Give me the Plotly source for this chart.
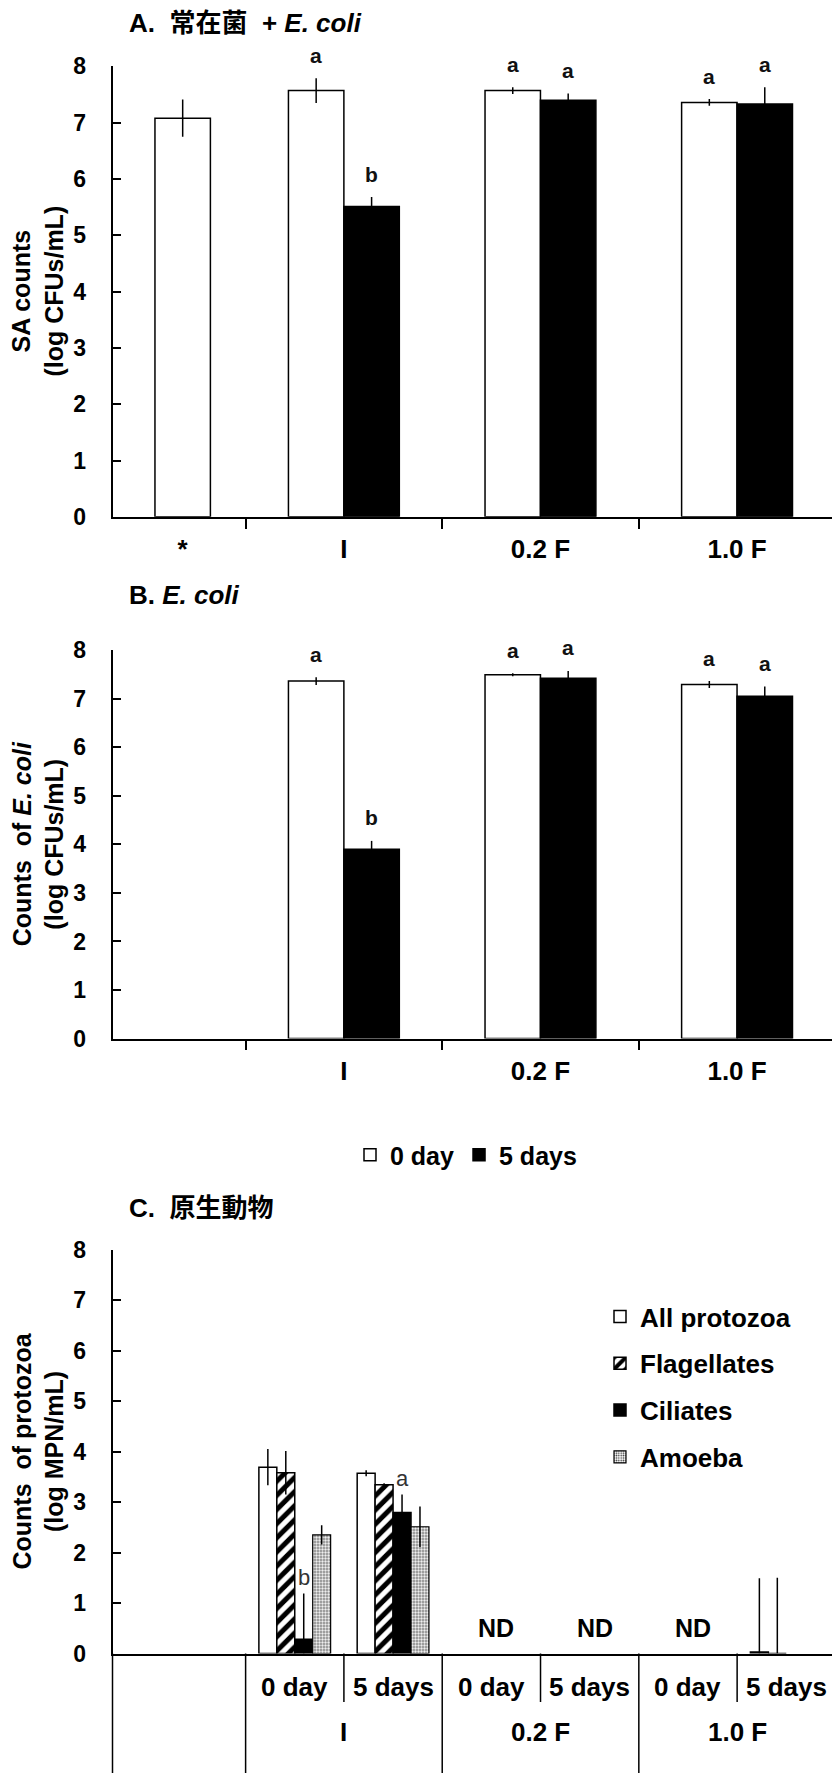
import plotly.graph_objects as go

# ---------------- data ----------------
categories_ab = ["*", "I", "0.2 F", "1.0 F"]
categories_b_labels = ["", "I", "0.2 F", "1.0 F"]

# Panel A: SA counts (log CFUs/mL)
a_day0 = [7.08, 7.57, 7.57, 7.36]
a_day0_err = [0.33, 0.22, 0.06, 0.06]
a_day5 = [None, 5.51, 7.40, 7.33]
a_day5_err = [None, 0.17, 0.12, 0.30]
a_letters_day0 = ["", "a", "a", "a"]
a_letters_day5 = ["", "b", "a", "a"]

# Panel B: counts of E. coli (log CFUs/mL)
b_day0 = [None, 7.36, 7.49, 7.29]
b_day0_err = [None, 0.08, 0.03, 0.07]
b_day5 = [None, 3.90, 7.42, 7.05]
b_day5_err = [None, 0.17, 0.15, 0.20]
b_letters_day0 = ["", "a", "a", "a"]
b_letters_day5 = ["", "b", "a", "a"]

# Panel C: counts of protozoa (log MPN/mL)
c_days = ["0 day", "5 days", "0 day", "5 days", "0 day", "5 days"]
c_groups = ["I", "0.2 F", "1.0 F"]
all_protozoa = [3.69, 3.57, None, None, None, 0.03]
all_protozoa_err = [0.36, 0.06, None, None, None, 1.46]
flagellates = [3.58, 3.34, None, None, None, 0.0]
flagellates_err = [0.43, 0.03, None, None, None, 1.50]
ciliates = [0.28, 2.79, None, None, None, None]
ciliates_err = [0.91, 0.36, None, None, None, None]
amoeba = [2.35, 2.51, None, None, None, None]
amoeba_err = [0.19, 0.40, None, None, None, None]
ciliate_letters = ["b", "a", "", "", "", ""]
c_nd = ["", "", "ND", "ND", "ND", ""]

# ---------------- layout helpers ----------------
W, H = 832, 1773
FONT = "Liberation Sans, Arial, Noto Sans CJK JP, sans-serif"


def py(px):
    return 1 - px / H


XL = 112.5 / W
cat_pos = [1.18, 2, 3, 4]
BW = 0.282
c_pos = [1, 2, 3, 4, 5, 6]
CW = 0.1825

fig = go.Figure()


def err(arr, minus_cap=None):
    plus = [e if e is not None else 0 for e in arr]
    if minus_cap is None:
        minus = plus
    else:
        minus = [min(e, v) if (v is not None) else 0 for e, v in zip(plus, minus_cap)]
    return dict(type="data", symmetric=False, array=plus, arrayminus=minus,
                color="black", thickness=1.5, width=0)


def ab_panel(day0, day0_err, day5, day5_err, xa, ya, showlegend):
    off0 = [-BW / 2 if b is None else -BW for b in day5]
    fig.add_trace(go.Bar(
        x=cat_pos, y=day0, width=BW, offset=off0, name="0 day",
        marker=dict(color="white", line=dict(color="black", width=1.5)),
        error_y=err(day0_err), xaxis=xa, yaxis=ya,
        showlegend=showlegend, legend="legend"))
    fig.add_trace(go.Bar(
        x=cat_pos, y=day5, width=BW, offset=0, name="5 days",
        marker=dict(color="black", line=dict(color="black", width=1.5)),
        error_y=err(day5_err), xaxis=xa, yaxis=ya,
        showlegend=showlegend, legend="legend"))


ab_panel(a_day0, a_day0_err, a_day5, a_day5_err, "x", "y", True)
ab_panel(b_day0, b_day0_err, b_day5, b_day5_err, "x2", "y2", False)

c_series = [
    ("All protozoa", all_protozoa, all_protozoa_err,
     dict(color="white", line=dict(color="black", width=1.5))),
    ("Flagellates", flagellates, flagellates_err,
     dict(color="white", line=dict(color="black", width=1.5),
          pattern=dict(shape="/", fgcolor="black", bgcolor="white", size=10, solidity=0.5))),
    ("Ciliates", ciliates, ciliates_err,
     dict(color="black", line=dict(color="black", width=1.5))),
    ("Amoeba", amoeba, amoeba_err,
     dict(color="white", line=dict(color="black", width=1.2),
          pattern=dict(shape=".", fgcolor="#333333", bgcolor="white", size=3, solidity=0.35))),
]
for i, (name, vals, errs, marker) in enumerate(c_series):
    fig.add_trace(go.Bar(
        x=c_pos, y=vals, width=CW, offset=(i - 2) * CW, name=name,
        marker=marker, error_y=err(errs, vals), xaxis="x3", yaxis="y3",
        legend="legend2", legendgroup=name))

# ---------------- axes ----------------
tickfont_x = dict(family=FONT, size=26, color="black", weight="bold")
tickfont_y = dict(family=FONT, size=23, color="black", weight="bold")

common_y = dict(range=[0, 8], dtick=1, tick0=0, ticks="inside", ticklen=9, tickwidth=1.5,
                tickcolor="black", showline=True, linecolor="black", linewidth=1.5,
                showgrid=False, zeroline=False, tickfont=tickfont_y, ticklabelstandoff=20,
                fixedrange=True, automargin=False)
common_x_ab = dict(range=[0.823, 4.483], showline=True, linecolor="black", linewidth=1.5,
                   tickmode="array", tickvals=cat_pos, ticks="", showgrid=False,
                   zeroline=False, tickfont=tickfont_x, ticklabelstandoff=8,
                   automargin=False, fixedrange=True,
                   minor=dict(tickmode="array", tickvals=[1.5, 2.5, 3.5], ticks="outside",
                              ticklen=10, tickwidth=1.5, tickcolor="black", showgrid=False))

fig.update_layout(
    template="none",
    width=W, height=H, margin=dict(l=0, r=0, t=0, b=0, autoexpand=False),
    paper_bgcolor="white", plot_bgcolor="white", barmode="overlay",
    font=dict(family=FONT, color="black"),
    xaxis=dict(domain=[XL, 1], anchor="y", ticktext=categories_ab, **common_x_ab),
    yaxis=dict(domain=[py(516.8), py(66.4)], anchor="x", **common_y),
    xaxis2=dict(domain=[XL, 1], anchor="y2", ticktext=categories_b_labels, **common_x_ab),
    yaxis2=dict(domain=[py(1038.6), py(650)], anchor="x2", **common_y),
    xaxis3=dict(domain=[XL, 1], anchor="y3", range=[-0.854, 6.465], showline=True,
                linecolor="black", linewidth=1.5, showticklabels=False, ticks="",
                showgrid=False, zeroline=False, automargin=False, fixedrange=True),
    yaxis3=dict(domain=[py(1653.5), py(1249.5)], anchor="x3", **common_y),
    legend=dict(orientation="h", x=350 / W, xanchor="left", y=py(1155), yanchor="middle",
                font=dict(family=FONT, size=25, color="black", weight="bold"),
                bgcolor="rgba(0,0,0,0)", borderwidth=0, itemclick=False,
                itemdoubleclick=False),
    legend2=dict(orientation="v", x=600 / W, xanchor="left", y=py(1293), yanchor="top",
                 traceorder="grouped", tracegroupgap=10,
                 font=dict(family=FONT, size=26, color="black", weight="bold"),
                 bgcolor="rgba(0,0,0,0)", borderwidth=0, itemclick=False,
                 itemdoubleclick=False),
)

ann = []
bold26 = dict(family=FONT, size=26, color="black", weight="bold")
bold25 = dict(family=FONT, size=25, color="black", weight="bold")

# panel titles
ann.append(dict(text="A.  常在菌  + <i>E. coli</i>", x=127 / W, y=py(23), xref="paper",
                yref="paper", xanchor="left", yanchor="middle", showarrow=False, font=bold26))
ann.append(dict(text="B. <i>E. coli</i>", x=127 / W, y=py(595), xref="paper",
                yref="paper", xanchor="left", yanchor="middle", showarrow=False, font=bold26))
ann.append(dict(text="C.  原生動物", x=127 / W, y=py(1208), xref="paper",
                yref="paper", xanchor="left", yanchor="middle", showarrow=False, font=bold26))

# axis titles
for txt, yc in [("SA counts<br>(log CFUs/mL)", (66.4 + 516.8) / 2),
                ("Counts&nbsp; of <i>E. coli</i><br>(log CFUs/mL)", (650 + 1038.6) / 2),
                ("Counts&nbsp; of protozoa<br>(log MPN/mL)", (1249.5 + 1653.5) / 2)]:
    ann.append(dict(text=txt, x=38 / W, y=py(yc), xref="paper", yref="paper",
                    xanchor="center", yanchor="middle", textangle=-90, showarrow=False,
                    font=bold25))

# significance letters, panels A and B
letter_font = dict(family=FONT, size=21, color="#111111", weight="bold")
for xa, ya, d0, e0, l0, d5, e5, l5 in [
        ("x", "y", a_day0, a_day0_err, a_letters_day0, a_day5, a_day5_err, a_letters_day5),
        ("x2", "y2", b_day0, b_day0_err, b_letters_day0, b_day5, b_day5_err, b_letters_day5)]:
    for i, xc in enumerate(cat_pos):
        if l0[i] and d0[i] is not None:
            ann.append(dict(text=l0[i], x=xc - BW / 2, y=d0[i] + e0[i], xref=xa, yref=ya,
                            yshift=23, showarrow=False, yanchor="middle", font=letter_font))
        if l5[i] and d5[i] is not None:
            ann.append(dict(text=l5[i], x=xc + BW / 2, y=d5[i] + e5[i], xref=xa, yref=ya,
                            yshift=23, showarrow=False, yanchor="middle", font=letter_font))

# panel C letters and ND
c_letter_font = dict(family=FONT, size=22, color="#333333")
for i, xc in enumerate(c_pos):
    if ciliate_letters[i]:
        ann.append(dict(text=ciliate_letters[i], x=xc + CW / 2,
                        y=ciliates[i] + ciliates_err[i], xref="x3", yref="y3",
                        yshift=16, showarrow=False, yanchor="middle", font=c_letter_font))
    if c_nd[i]:
        ann.append(dict(text=c_nd[i], x=xc + 0.05, y=0.5, xref="x3", yref="y3",
                        showarrow=False, yanchor="middle", font=bold25))
    ann.append(dict(text=c_days[i], x=xc, y=py(1687), xref="x3", yref="paper",
                    showarrow=False, yanchor="middle", font=bold26))
for g, name in enumerate(c_groups):
    ann.append(dict(text=name, x=2 * g + 1.5, y=py(1732), xref="x3", yref="paper",
                    showarrow=False, yanchor="middle", font=bold26))

fig.update_layout(annotations=ann)

# panel C category table lines
shapes = []
for g in range(len(c_groups)):
    xb = 2 * g + 0.5
    shapes.append(dict(type="line", xref="x3", yref="paper", x0=xb, x1=xb,
                       y0=py(1653.5), y1=0, line=dict(color="black", width=1.5)))
    xs = 2 * g + 1.5
    shapes.append(dict(type="line", xref="x3", yref="paper", x0=xs, x1=xs,
                       y0=py(1653.5), y1=py(1702), line=dict(color="black", width=1.5)))
shapes.append(dict(type="line", xref="x3 domain", yref="paper", x0=0, x1=0,
                   y0=py(1653.5), y1=0, line=dict(color="black", width=1.5)))
fig.update_layout(shapes=shapes)

fig.write_html("out.html", config={"displayModeBar": False},
               post_script="document.body.style.margin='0';document.body.style.overflow='hidden';")
